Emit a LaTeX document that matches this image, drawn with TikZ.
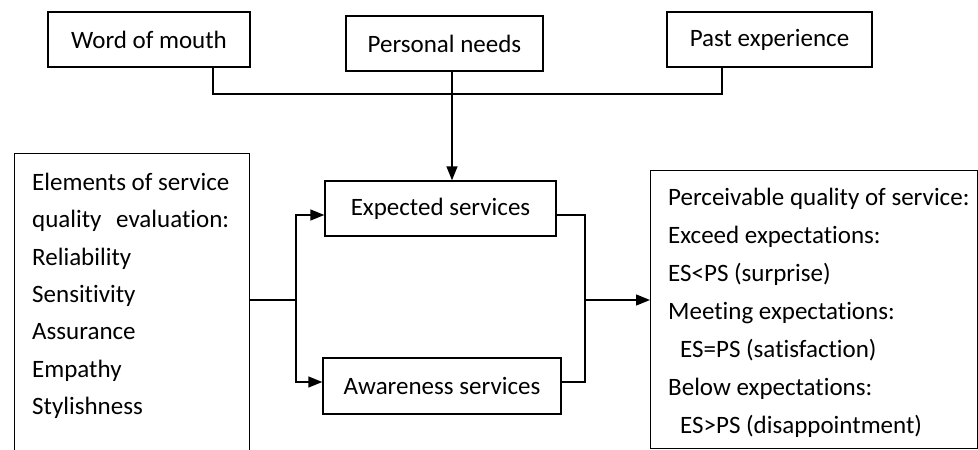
\documentclass[tikz,border=0pt]{standalone}
\usepackage{fontspec}
\setmainfont{Carlito}[Ligatures=NoCommon]
\usepackage{tikz}
\usetikzlibrary{arrows.meta,
                positioning}

\tikzset{box/.style={draw,line width=1.4pt,inner sep=0pt,minimum height=55pt},
         arr/.style={-{Triangle[length=14pt,width=11pt]}},
         wire/.style={line width=1.4pt}}

\begin{document}
\begin{tikzpicture}[x=1pt,y=-1pt,font=\fontsize{25pt}{30pt}\selectfont]
\useasboundingbox (0,0) rectangle (978,450);

% top row
\node[box,minimum width=202pt] (wom)   at (149,39.5)  {Word of mouth};
\node[box,minimum width=197pt] (needs) at (444.5,43.5) {Personal needs};
\node[box,minimum width=205pt] (past)  at (769.5,39.5) {Past experience};

% middle
\node[box,minimum width=231pt] (expect) at (440.5,208.5) {Expected services};
\node[box,minimum width=238pt,minimum height=56pt] (aware) at (442,386) {Awareness services};

% big boxes
\node[box,anchor=north west,minimum width=235pt,minimum height=330pt] (elem) at (14,153) {};
\node[box,anchor=north west,minimum width=327pt,minimum height=278pt] (result) at (650,170) {};

\foreach \y/\t [count=\i] in {190/Elements of service,
    227.5/quality\hspace{9pt} evaluation:,265/Reliability,302/Sensitivity,
    339.5/Assurance,377/Empathy,414.5/Stylishness}
  \node[anchor=base west,inner sep=0pt] (el\i) at (32,\y) {\t};

\foreach \y/\x/\t [count=\i] in {205/668/Perceivable quality of service:,
    243/668/Exceed expectations:,281/668/ES<PS (surprise),
    319/668/Meeting expectations:,357/680/ES=PS (satisfaction),
    395/668/Below expectations:,433/680/ES>PS (disappointment)}
  \node[anchor=base west,inner sep=0pt] (pq\i) at (\x,\y) {\t};

% connectors
\coordinate (busL) at (213,94);
\coordinate (busR) at (722,94);
\coordinate (down) at (452,94);
\draw[wire] (wom.south -| busL) -- (busL) -- (busR) -- (past.south -| busR);
\draw[wire,arr] (needs.south -| down) -- (expect.north -| down);

\coordinate (split)  at (296,300);
\coordinate (splitT) at (296,215);
\coordinate (splitB) at (296,382);
\draw[wire] (elem.east |- split) -- (split);
\draw[wire,arr] (split) -- (splitT) -- (expect.west |- splitT);
\draw[wire,arr] (split) -- (splitB) -- (aware.west |- splitB);

\coordinate (merge)  at (585,300);
\coordinate (mergeT) at (585,215);
\coordinate (mergeB) at (585,382);
\draw[wire] (expect.east |- mergeT) -- (mergeT) -- (mergeB) -- (aware.east |- mergeB);
\draw[wire,arr] (merge) -- (result.west |- merge);
\end{tikzpicture}
\end{document}
